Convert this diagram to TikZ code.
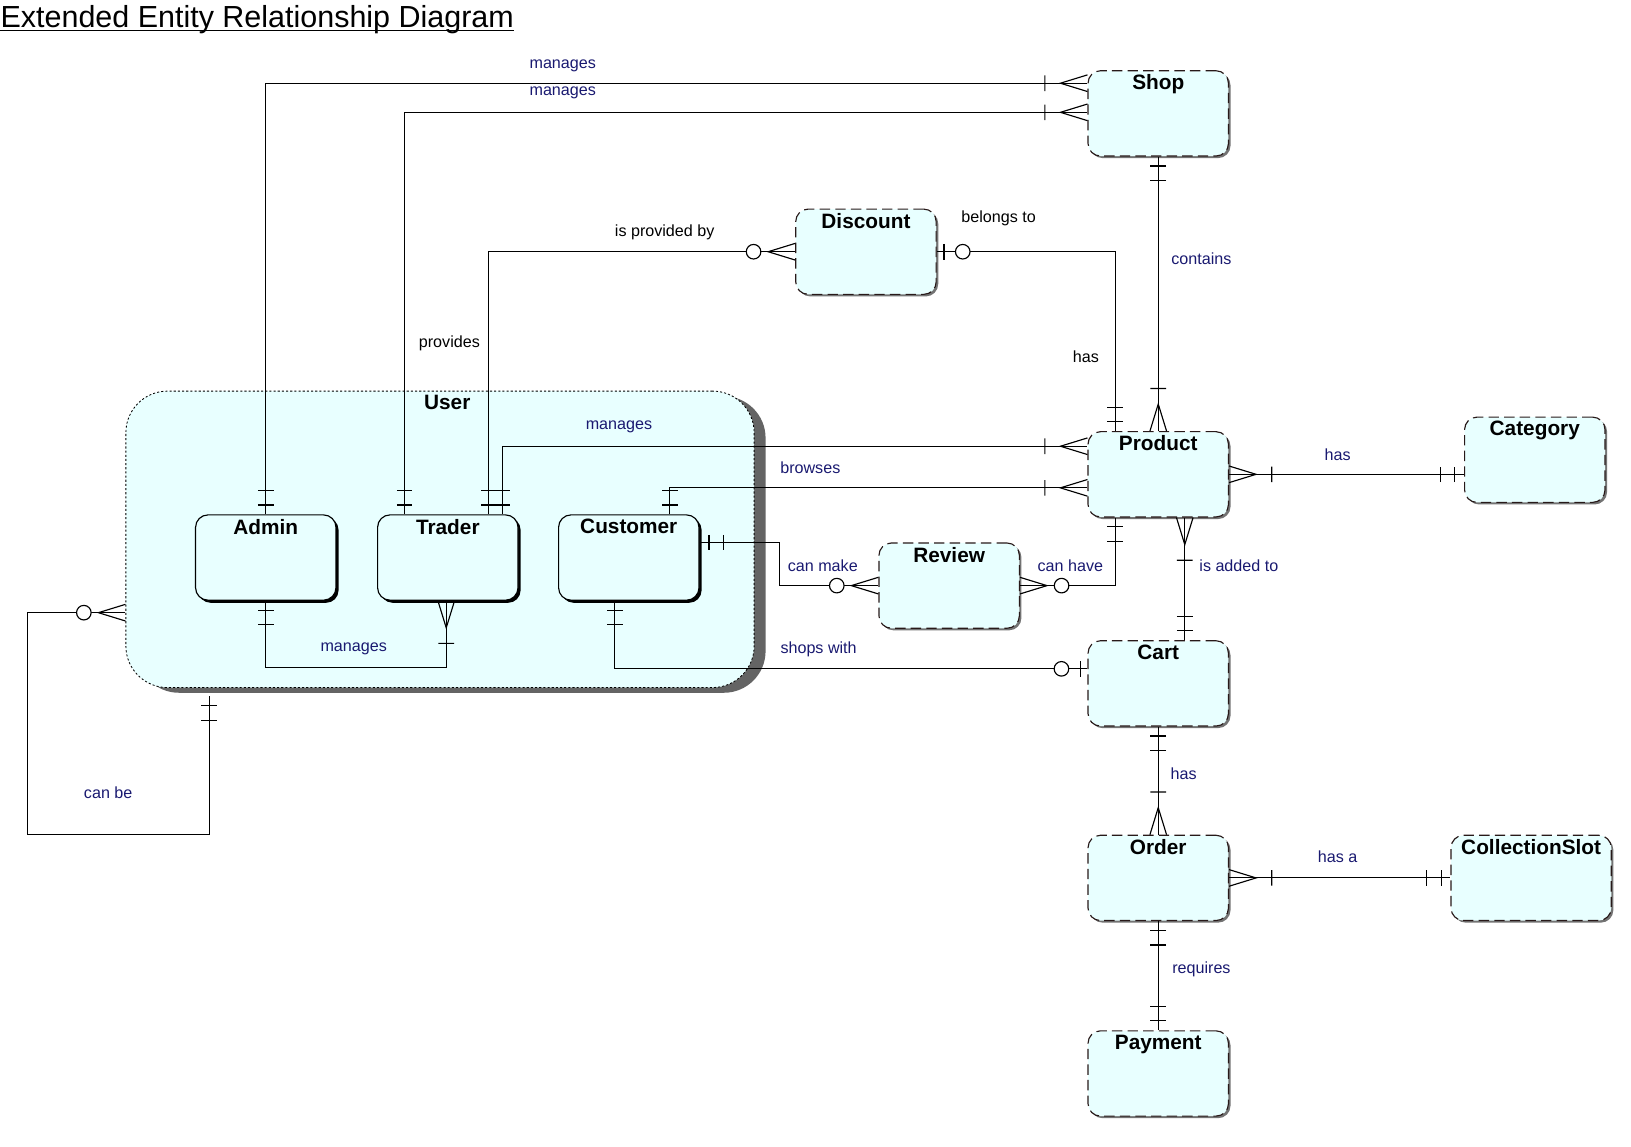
\documentclass[tikz,border=0pt]{standalone}
\usepackage{fontspec}
\setmainfont{Liberation Sans}
\usetikzlibrary{shadows,calc}
\definecolor{entfill}{RGB}{232,255,255}
\definecolor{lblnavy}{RGB}{25,25,112}
\definecolor{shadowgray}{RGB}{100,100,100}
\definecolor{entborder}{RGB}{40,25,25}
\begin{document}
\begin{tikzpicture}[x=1pt,y=-1pt,line width=1.1pt,
  entity/.style={draw=entborder, dash pattern=on 10pt off 5pt, fill=entfill,
    rounded corners=12pt, minimum width=135pt, minimum height=82pt, inner sep=0pt,
    drop shadow={shadow xshift=2pt, shadow yshift=-2pt, fill=gray!90!black, opacity=1}},
  subent/.style={draw=black, solid, fill=entfill, rounded corners=12pt,
    minimum width=135pt, minimum height=82pt, inner sep=0pt,
    drop shadow={shadow xshift=2.5pt, shadow yshift=-2.5pt, fill=black, opacity=1}},
  userent/.style={draw=black, dash pattern=on 2pt off 2pt, line width=0.8pt, fill=entfill,
    rounded corners=40pt, minimum width=604pt, minimum height=285pt, inner sep=0pt,
    drop shadow={shadow xshift=11pt, shadow yshift=-5pt, fill=shadowgray, opacity=1}},
  ttl/.style={anchor=north, font=\bfseries\fontsize{20}{24}\selectfont, inner sep=0pt, yshift=-4pt},
  lbl/.style={font=\fontsize{15.5}{18}\selectfont, text=lblnavy, inner sep=1pt},
  lblk/.style={font=\fontsize{15.5}{18}\selectfont, text=black, inner sep=1pt},
  pone/.pic={\draw (9,-7.5) -- (9,7.5) (23,-7.5) -- (23,7.5);},
  pmany/.pic={\draw (0,-8) -- (26,0) -- (0,8) (41,-7.5) -- (41,7.5);},
  pzmany/.pic={\draw (0,-8) -- (26,0) -- (0,8); \draw[fill=white] (40,0) circle[radius=7pt];},
  pzone/.pic={\draw (7,-7.5) -- (7,7.5); \draw[fill=white] (25,0) circle[radius=7pt];}
]
\useasboundingbox (0,0) rectangle (1568,1102);

% title
\node[anchor=base west, inner sep=0pt, font=\fontsize{29.3}{34}\selectfont] (title) at (0,26) {Extended Entity Relationship Diagram};
\draw[line width=1.4pt] ([yshift=-3.5pt]title.base west) -- ([yshift=-3.5pt]title.base east);

% supertype
\node[userent, label={[ttl, xshift=7pt]north:User}] (User) at (423,518.5) {};
\node[subent, label={[ttl]north:Admin}] (Admin) at (255.5,536) {};
\node[subent, label={[ttl]north:Trader}] (Trader) at (430.5,536) {};
\node[subent, label={[ttl]north:Customer}] (Customer) at (604.5,536) {};

% entities
\node[entity, label={[ttl]north:Shop}] (Shop) at (1113.5,109) {};
\node[entity, label={[ttl]north:Discount}] (Discount) at (832.5,242) {};
\node[entity, label={[ttl]north:Product}] (Product) at (1113.5,456) {};
\node[entity, label={[ttl]north:Category}] (Category) at (1475.5,442) {};
\node[entity, label={[ttl]north:Review}] (Review) at (912.5,563) {};
\node[entity, label={[ttl]north:Cart}] (Cart) at (1113.5,657) {};
\node[entity, label={[ttl]north:Order}] (Order) at (1113.5,844) {};
\node[entity, minimum width=154pt, label={[ttl]north:CollectionSlot}] (Slot) at (1472,844) {};
\node[entity, label={[ttl]north:Payment}] (Payment) at (1113.5,1032) {};

% 1 Admin - Shop
\draw (Admin.north) |- ([yshift=29pt]Shop.west);
\pic[rotate=90] at (Admin.north) {pone};
\pic[rotate=180] at ([yshift=29pt]Shop.west) {pmany};
% 2 Trader - Shop
\draw ([xshift=-41.5pt]Trader.north) |- ([yshift=1pt]Shop.west);
\pic[rotate=90] at ([xshift=-41.5pt]Trader.north) {pone};
\pic[rotate=180] at ([yshift=1pt]Shop.west) {pmany};
% 3 Trader - Discount
\draw ([xshift=39.5pt]Trader.north) |- (Discount.west);
\pic[rotate=90] at ([xshift=39.5pt]Trader.north) {pone};
\pic[rotate=180] at (Discount.west) {pzmany};
% 4 Trader - Product
\draw ([xshift=52.5pt]Trader.north) |- ([yshift=27pt]Product.west);
\pic[rotate=90] at ([xshift=52.5pt]Trader.north) {pone};
\pic[rotate=180] at ([yshift=27pt]Product.west) {pmany};
% 5 Customer - Product
\draw ([xshift=39.5pt]Customer.north) |- ([yshift=-13pt]Product.west);
\pic[rotate=90] at ([xshift=39.5pt]Customer.north) {pone};
\pic[rotate=180] at ([yshift=-13pt]Product.west) {pmany};
% 6 Customer - Review
\draw ([yshift=14.3pt]Customer.east) -- ++(77,0) |- (Review.west);
\pic at ([yshift=14.3pt]Customer.east) {pone};
\pic[rotate=180] at (Review.west) {pzmany};
% 7 Product - Review
\draw ([xshift=-41.5pt]Product.south) |- (Review.east);
\pic[rotate=-90] at ([xshift=-41.5pt]Product.south) {pone};
\pic at (Review.east) {pzmany};
% 8 Discount - Product
\draw (Discount.east) -| ([xshift=-41.5pt]Product.north);
\pic at (Discount.east) {pzone};
\pic[rotate=90] at ([xshift=-41.5pt]Product.north) {pone};
% 9 Shop - Product
\draw (Shop.south) -- (Product.north);
\pic[rotate=-90] at (Shop.south) {pone};
\pic[rotate=90] at (Product.north) {pmany};
% 10 Product - Category
\draw (Product.east) -- ([yshift=-14pt]Category.west);
\pic at (Product.east) {pmany};
\pic[rotate=180] at ([yshift=-14pt]Category.west) {pone};
% 11 Product - Cart
\draw ([xshift=25.5pt]Product.south) -- ([xshift=25.5pt]Cart.north);
\pic[rotate=-90] at ([xshift=25.5pt]Product.south) {pmany};
\pic[rotate=90] at ([xshift=25.5pt]Cart.north) {pone};
% 12 Customer - Cart
\draw ([xshift=-13.5pt]Customer.south) |- ([yshift=14pt]Cart.west);
\pic[rotate=-90] at ([xshift=-13.5pt]Customer.south) {pone};
\pic[rotate=180] at ([yshift=14pt]Cart.west) {pzone};
% 13 Cart - Order
\draw (Cart.south) -- (Order.north);
\pic[rotate=-90] at (Cart.south) {pone};
\pic[rotate=90] at (Order.north) {pmany};
% 14 Order - CollectionSlot
\draw (Order.east) -- (Slot.west);
\pic at (Order.east) {pmany};
\pic[rotate=180] at (Slot.west) {pone};
% 15 Order - Payment
\draw (Order.south) -- (Payment.north);
\pic[rotate=-90] at (Order.south) {pone};
\pic[rotate=90] at (Payment.north) {pone};
% 16 Admin - Trader
\draw (Admin.south) -- ++(0,64) -| ([xshift=-1.5pt]Trader.south);
\pic[rotate=-90] at (Admin.south) {pone};
\pic[rotate=-90] at ([xshift=-1.5pt]Trader.south) {pmany};
% 17 User - User
\draw ([yshift=-70.5pt]User.west) -- ++(-94,0) -- ++(0,213) -| ([xshift=-222pt,yshift=-8pt]User.south);
\pic[rotate=180] at ([yshift=-70.5pt]User.west) {pzmany};
\pic[rotate=-90] at ([xshift=-222pt,yshift=-8pt]User.south) {pone};

% labels
\node[lbl] (t1) at (541,63) {manages};
\node[lbl] (t2) at (541,89) {manages};
\node[lblk] (t3) at (639,223) {is provided by};
\node[lblk] (t4) at (432,330) {provides};
\node[lblk] (t5) at (960,210) {belongs to};
\node[lbl] (t6) at (1155,249) {contains};
\node[lblk] (t7) at (1044,343) {has};
\node[lbl] (t8) at (595,410) {manages};
\node[lbl] (t9) at (779,450) {browses};
\node[lbl] (t10) at (1286,437) {has};
\node[lbl] (t11) at (791,544) {can make};
\node[lbl] (t12) at (1029,544) {can have};
\node[lbl] (t13) at (1191,544) {is added to};
\node[lbl] (t14) at (340,624) {manages};
\node[lbl] (t15) at (787,624) {shops with};
\node[lbl] (t16) at (1138,744) {has};
\node[lbl] (t17) at (104,762) {can be};
\node[lbl] (t18) at (1286,824) {has a};
\node[lbl] (t19) at (1155,932) {requires};
\end{tikzpicture}
\end{document}
